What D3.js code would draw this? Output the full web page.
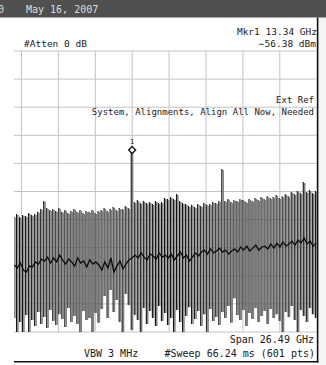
<!DOCTYPE html>
<html><head><meta charset="utf-8">
<script src="https://cdn.jsdelivr.net/npm/d3@7"></script>
<style>html,body{margin:0;padding:0;background:#fff;}svg{display:block;}text{font-family:"DejaVu Sans Mono",monospace;}</style>
</head><body>
<script>
// ---- data ----
const dateLabel = "May 16, 2007";
const spanStartGHz = 0.1, spanStopGHz = 26.59;
const refLevel = -21.15, dbPerDiv = 10, divisions = 10;
const markerFreq = 13.34, markerLevel = -56.38;
const visStartGHz = 4.88, pointStepGHz = 0.2167;   // visible sweep points (every 5th of 601)

const traceTop = [
 -79.9,-79.2,-80.2,-79.5,-79.9,-78.8,-79.5,-79.2,-78.4,
 -77.4,-74.5,-77.0,-77.7,
 -77.4,-78.1,-77.0,-78.4,-77.7,-78.8,-78.1,-77.4,-78.4,-77.7,-78.8,-78.1,-78.4,-77.7,-78.8,-78.1,
 -77.7,-77.0,-78.1,-77.4,-76.7,-77.7,-77.0,-77.4,-76.3,-77.0,
 -56.38,
 -74.9,-74.2,-75.2,-74.5,-75.2,-74.9,-75.6,-74.5,-75.2,-74.9,
 -73.5,-73.8,-73.1,-73.8,-72.0,
 -74.5,-75.2,-75.6,-76.3,-75.9,-76.7,-75.6,-76.3,-75.2,-75.9,-75.6,-74.9,
 -75.2,-74.5,-63.1,
 -74.5,-73.8,-74.9,-74.2,-74.5,-73.8,-74.2,-74.9,-73.8,-74.5,-73.5,-74.2,
 -73.1,-73.8,-72.8,-73.5,-73.1,-72.4,-73.5,-72.8,-72.0,-72.8,
 -71.3,-72.0,-71.0,-71.7,-67.8,-71.3,-70.6,-71.7,-71.0
];
const traceBottom = [
 -116.2,-121.2,-117.6,-121.2,-115.1,-121.2,-116.9,-119.0,-114.0,-118.3,
 -115.8,-119.7,-113.3,-117.2,-118.7,-114.8,-116.5,-119.4,-112.6,-117.6,
 -115.5,-118.3,-121.2,-113.7,-116.9,-116.2,-121.2,-114.4,-117.9,-113.0,
 -108.3,-116.2,-106.2,-114.0,-109.8,-117.6,-121.2,-107.6,-111.5,-120.4,
 -115.1,-116.9,-121.2,-112.6,-118.3,-113.7,-116.2,-119.0,-111.9,-117.2,
 -114.4,-118.7,-116.2,-121.2,-113.3,-117.6,-121.2,-115.5,-112.3,-118.3,
 -116.5,-113.7,-119.0,-114.8,-121.2,-113.0,-117.2,-115.8,-118.7,-114.0,
 -116.2,-111.9,-117.9,-109.1,-115.1,-116.9,-113.3,-119.0,-114.4,-116.5,
 -112.6,-117.6,-115.5,-113.7,-118.3,-113.0,-116.2,-114.8,-117.2,-121.2,
 -114.0,-115.8,-111.9,-116.9,-121.2,-113.3,-115.5,-117.6,-112.6,-114.8,
 -116.2
];
const traceMid = [
 -97.3,-98.4,-96.6,-99.1,-99.8,-97.7,
 -98.0,-96.2,-97.0,-95.2,-95.9,-94.5,-96.6,
 -94.8,-96.2,-93.8,-95.5,-97.0,-95.2,
 -96.2,-97.7,-94.8,-96.6,-95.9,-98.0,-95.5,-97.0,-96.2,
 -97.3,-99.1,-96.2,-98.4,-94.8,-99.8,-97.7,-95.9,-98.7,-97.0,-95.5,
 -94.8,
 -93.8,-94.8,-93.0,-94.5,-95.5,-93.4,-94.1,-95.2,-93.0,-94.5,
 -93.8,-94.8,-93.4,-95.5,-94.1,-92.7,-94.8,-93.8,-95.9,-94.5,-93.0,-94.1,
 -92.7,-92.0,-93.4,-91.6,-93.0,-92.3,-91.3,-92.7,-92.0,-93.4,-92.3,
 -91.6,-92.7,-90.9,-92.0,-90.6,-92.3,-91.3,-90.2,-92.0,-90.9,
 -90.6,-91.6,-89.8,-91.3,-89.5,-90.9,-89.1,-90.6,-89.8,-88.8,
 -90.2,-88.4,-89.5,-87.7,-89.8,-88.8,-90.6,-89.5
];
const topTexts = ["Mkr1 13.34 GHz", "#Atten 0 dB", "\u221256.38 dBm"];
const msgTexts = ["Ext Ref", "System, Alignments, Align All Now, Needed"];
const bottomTexts = ["Span 26.49 GHz", "VBW 3 MHz", "#Sweep 66.24 ms (601 pts)"];

// ---- drawing ----
const W = 326, H = 365;
const gTop = 51, gBottom = 332, gRight = 316.7, gWidth = 369, boxLeft = 14;
const svg = d3.select("body").append("svg").attr("width", W).attr("height", H);

const x = d3.scaleLinear().domain([spanStartGHz, spanStopGHz]).range([gRight - gWidth, gRight]);
const y = d3.scaleLinear().domain([refLevel, refLevel - dbPerDiv * divisions]).range([gTop, gBottom]);

svg.append("rect").attr("width", W).attr("height", H).attr("fill", "#fff");
svg.append("rect").attr("x", 318.5).attr("y", 0).attr("width", W - 318.5).attr("height", H).attr("fill", "#f4f4f4");

// top bar
svg.append("rect").attr("x", 0).attr("y", 0).attr("width", W).attr("height", 17.5).attr("fill", "#505050");
svg.append("text").attr("x", -2).attr("y", 12.5).attr("fill", "#dedede").attr("font-size", 10).text("0");
svg.append("text").attr("x", 26).attr("y", 12.5).attr("fill", "#dedede").attr("font-size", 10).text(dateLabel);

// grid via scales
const xTicks = d3.range(divisions + 1).map(i => spanStartGHz + i * (spanStopGHz - spanStartGHz) / divisions);
const yTicks = d3.range(divisions + 1).map(i => refLevel - i * dbPerDiv);
const grid = svg.append("g").attr("stroke", "#c4c4c4").attr("stroke-width", 1);
grid.selectAll("line.v").data(xTicks.filter(f => x(f) >= boxLeft && x(f) < gRight - 1)).join("line")
  .attr("x1", d => x(d)).attr("x2", d => x(d)).attr("y1", gTop).attr("y2", gBottom);
grid.selectAll("line.h").data(yTicks).join("line")
  .attr("x1", boxLeft).attr("x2", gRight).attr("y1", d => y(d)).attr("y2", d => y(d));

// trace
svg.append("defs").append("clipPath").attr("id", "clip").append("rect")
  .attr("x", boxLeft).attr("y", gTop - 5).attr("width", gRight - boxLeft).attr("height", gBottom - gTop + 5);
const freqs = traceTop.map((_, i) => visStartGHz + i * pointStepGHz);
const tr = svg.append("g").attr("clip-path", "url(#clip)");
tr.selectAll("line.k").data(freqs).join("line").attr("class", "k")
  .attr("x1", (d) => x(d) - 0.75).attr("x2", (d) => x(d) - 0.75)
  .attr("y1", (d, i) => y(traceTop[i])).attr("y2", (d, i) => y(traceBottom[i]))
  .attr("stroke", "#141414").attr("stroke-width", 1.15);
tr.selectAll("line.g").data(freqs).join("line").attr("class", "g")
  .attr("x1", (d) => x(d) + 0.6).attr("x2", (d) => x(d) + 0.6)
  .attr("y1", (d, i) => y(traceTop[i]) + 1).attr("y2", (d, i) => y(traceBottom[i]))
  .attr("stroke", "#7e7e7e").attr("stroke-width", 1.5);
tr.append("path").datum(freqs)
  .attr("d", d3.line().x(d => x(d)).y((d, i) => y(traceMid[i])))
  .attr("fill", "none").attr("stroke", "#0a0a0a").attr("stroke-width", 1.3);

// frame
svg.append("line").attr("x1", 317.6).attr("x2", 317.6).attr("y1", 17.5).attr("y2", 362.5)
  .attr("stroke", "#111").attr("stroke-width", 1.6);
svg.append("line").attr("x1", boxLeft).attr("x2", 318.4).attr("y1", 361.7).attr("y2", 361.7)
  .attr("stroke", "#111").attr("stroke-width", 1.4);

// marker
const mx = x(markerFreq), my = y(markerLevel);
svg.append("path").attr("d", `M${mx},${my - 3.5}L${mx + 3.5},${my}L${mx},${my + 3.5}L${mx - 3.5},${my}Z`)
  .attr("fill", "#fff").attr("stroke", "#111").attr("stroke-width", 1.3);
svg.append("text").attr("x", mx).attr("y", my - 5.5).attr("text-anchor", "middle")
  .attr("font-size", 7).attr("fill", "#111").text("1");

// texts
const tcol = "#1a1a1a";
svg.append("text").attr("x", 317).attr("y", 35).attr("text-anchor", "end").attr("font-size", 9.5).attr("fill", tcol).text(topTexts[0]);
svg.append("text").attr("x", 24).attr("y", 47).attr("font-size", 9.5).attr("fill", tcol).text(topTexts[1]);
svg.append("text").attr("x", 316).attr("y", 47).attr("text-anchor", "end").attr("font-size", 9.5).attr("fill", tcol).text(topTexts[2]);
svg.append("text").attr("x", 314).attr("y", 103).attr("text-anchor", "end").attr("font-size", 9).attr("fill", tcol).text(msgTexts[0]);
svg.append("text").attr("x", 314).attr("y", 114.5).attr("text-anchor", "end").attr("font-size", 9).attr("fill", tcol).text(msgTexts[1]);
svg.append("text").attr("x", 314).attr("y", 342.5).attr("text-anchor", "end").attr("font-size", 10).attr("fill", tcol).text(bottomTexts[0]);
svg.append("text").attr("x", 84).attr("y", 356.5).attr("font-size", 10).attr("fill", tcol).text(bottomTexts[1]);
svg.append("text").attr("x", 315).attr("y", 356.5).attr("text-anchor", "end").attr("font-size", 10).attr("fill", tcol).text(bottomTexts[2]);
</script>
</body></html>
